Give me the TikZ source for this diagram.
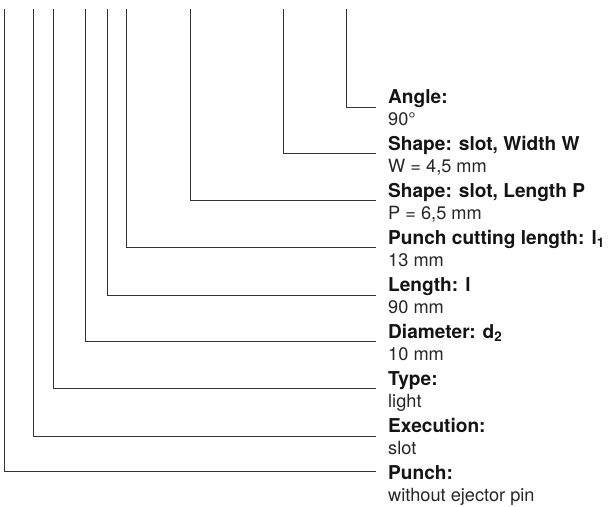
\documentclass[tikz,border=0pt]{standalone}
\usepackage{fontspec}
\setmainfont{TeX Gyre Heros}
\begin{document}
\begin{tikzpicture}[x=1pt,y=-1pt,
  lead/.style={line width=1pt, draw=black!80},
  hd/.style={anchor=base west, inner sep=0pt, font=\bfseries\fontsize{19.1}{22}\selectfont, text=black!92},
  val/.style={anchor=base west, inner sep=0pt, font=\fontsize{18.2}{22}\selectfont, text=black!85}]
\useasboundingbox (0,0) rectangle (610,506);
% labels
\node[hd]  (h1) at (388,103.5) {Angle:};
\node[val] (v1) at (388,125.5) {90°};
\node[hd]  (h2) at (388,150.5) {Shape: slot, Width W};
\node[val] (v2) at (388,172.5) {W = 4,5 mm};
\node[hd]  (h3) at (388,197.5) {Shape: slot, Length P};
\node[val] (v3) at (388,219.5) {P = 6,5 mm};
\node[hd]  (h4) at (388,244.5) {Punch cutting length: l\textsubscript{1}};
\node[val] (v4) at (388,266.5) {13 mm};
\node[hd]  (h5) at (388,291.5) {Length: l};
\node[val] (v5) at (388,313.5) {90 mm};
\node[hd]  (h6) at (388,338.5) {Diameter: d\textsubscript{2}};
\node[val] (v6) at (388,360.5) {10 mm};
\node[hd]  (h7) at (388,385.5) {Type:};
\node[val] (v7) at (388,407.5) {light};
\node[hd]  (h8) at (388,432.5) {Execution:};
\node[val] (v8) at (388,454.5) {slot};
\node[hd]  (h9) at (388,479.5) {Punch:};
\node[val] (v9) at (388,501.5) {without ejector pin};
% leader tops and ends
\coordinate (t1) at (346.7,9); \coordinate (e1) at (376,107.5);
\coordinate (t2) at (283.3,9); \coordinate (e2) at (376,153);
\coordinate (t3) at (190.7,9); \coordinate (e3) at (376,200);
\coordinate (t4) at (126.7,9); \coordinate (e4) at (376,247);
\coordinate (t5) at (107.7,9); \coordinate (e5) at (376,295);
\coordinate (t6) at (85,9);    \coordinate (e6) at (376,341);
\coordinate (t7) at (53.3,9);  \coordinate (e7) at (376,388);
\coordinate (t8) at (33.3,9);  \coordinate (e8) at (376,436);
\coordinate (t9) at (4.6,9);   \coordinate (e9) at (376,471.5);
\foreach \i in {1,...,9} { \draw[lead] (t\i) |- (e\i); }
\end{tikzpicture}
\end{document}
